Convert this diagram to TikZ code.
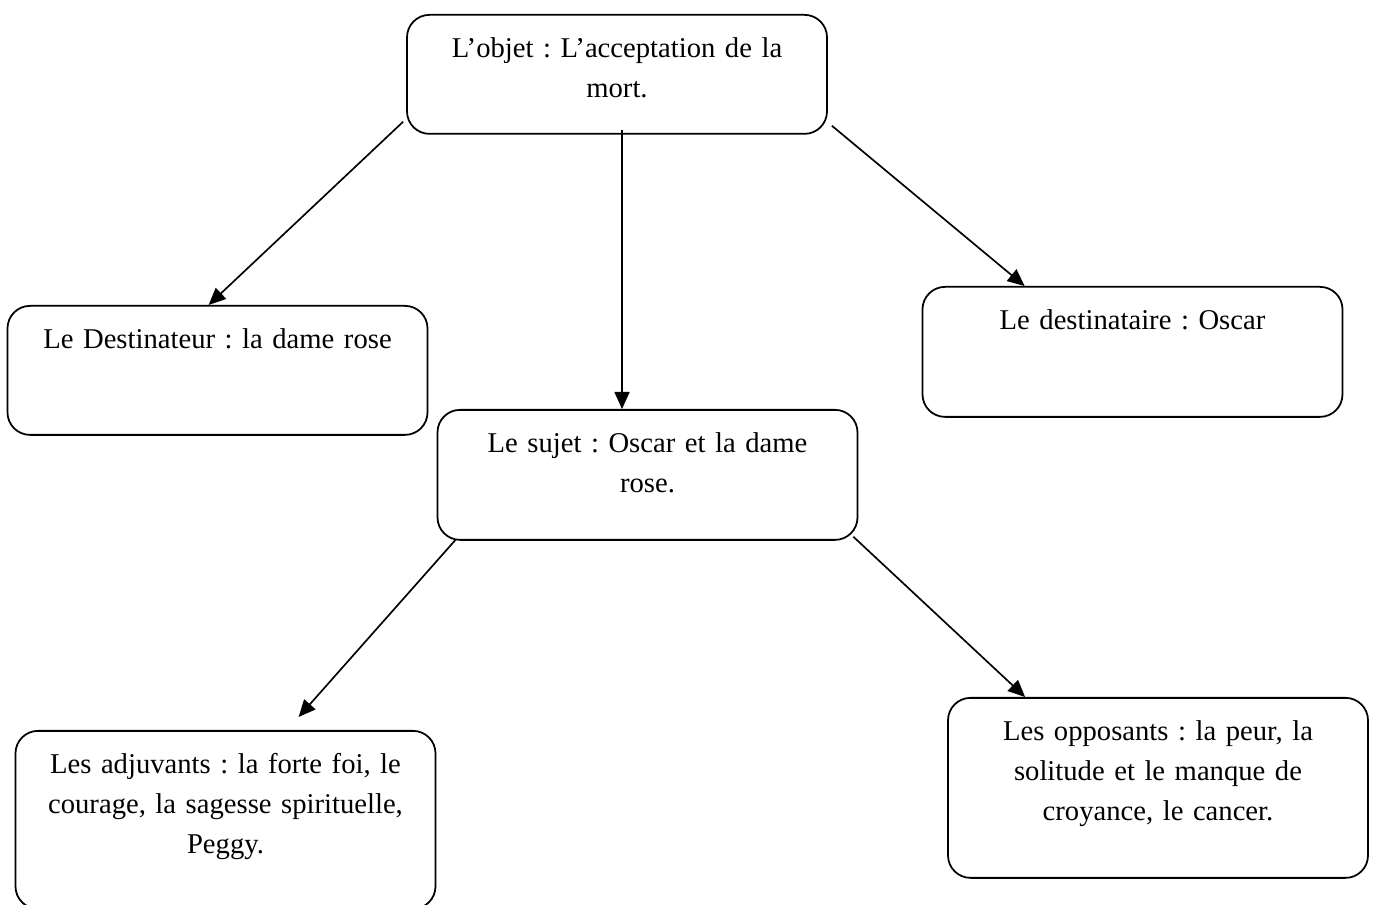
\documentclass[tikz,border=0pt]{standalone}
\usepackage{fontspec}
\setmainfont{Liberation Serif}
\usepackage{tikz}
\usetikzlibrary{arrows.meta,calc,positioning}
\tikzset{
  actant/.style={draw, line width=1pt, rounded corners=0.45cm, anchor=north,
    text width=7.8cm, align=center, inner xsep=0.3cm, inner ysep=0.3cm,
    text height=0.56cm, font=\fontsize{16.3}{22.76}\selectfont\frenchspacing},
}

\begin{document}
\begin{tikzpicture}[>={Triangle[length=0.34cm,width=0.3cm]}, line width=0.95pt]
      \useasboundingbox (0,0) rectangle (27.48,18.10);
      \node[actant, text depth=1.22cm] (objet) at (12.34,17.82) {L’objet : L’acceptation de la\\ mort.};
      \node[actant, text depth=1.42cm] (dest) at (4.35,12.00) {Le Destinateur : la dame rose};
      \node[actant, text depth=1.44cm] (destinataire) at (22.65,12.38) {Le destinataire : Oscar};
      \node[actant, text depth=1.44cm] (sujet) at (12.95,9.92) {Le sujet : Oscar et la dame\\ rose.};
      \node[actant, text depth=2.40cm] (adj) at (4.51,3.50) {Les adjuvants : la forte foi, le\\ courage, la sagesse spirituelle,\\ Peggy.};
      \node[actant, text depth=2.44cm] (opp) at (23.16,4.16) {Les opposants : la peur, la\\ solitude et le manque de\\ croyance, le cancer.};
      \path[->] ($(objet.south west)+(-0.06,0.26)$) edge ($(dest.north west)+(4.04,0)$);
      \path[->] ($(objet.south)+(0.1,0.1)$) edge ($(sujet.north)+(-0.51,0)$);
      \path[->] ($(objet.south east)+(0.08,0.18)$) edge ($(destinataire.north west)+(2.06,0)$);
      \path[->] ($(sujet.south west)+(0.38,0.02)$) edge ($(adj.north west)+(5.68,0.26)$);
      \path[->] ($(sujet.south east)+(-0.1,0.08)$) edge ($(opp.north west)+(1.56,0)$);
    \end{tikzpicture}
\end{document}
